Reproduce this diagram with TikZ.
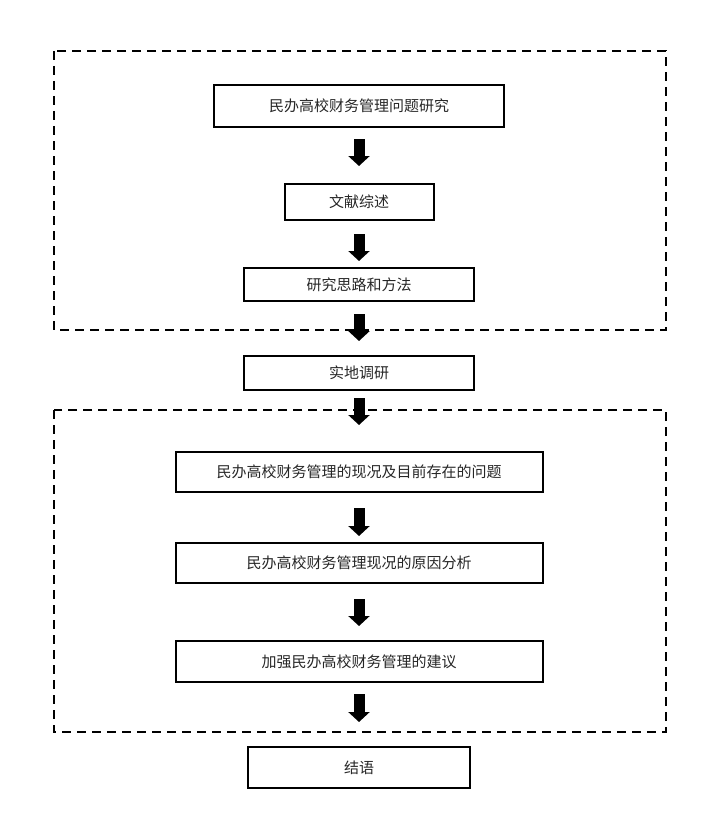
\documentclass[tikz,border=0pt]{standalone}
\usepackage{fontspec}
\newfontfamily\cjk{Noto Sans CJK SC}
\usetikzlibrary{arrows.meta}
\begin{document}
\begin{tikzpicture}[x=1pt,y=-1pt,
  box/.style={draw=black,line width=2pt,inner sep=0pt,font=\cjk\fontsize{15}{18}\selectfont,text=black!85},
  bigarrow/.style={line width=11pt,-{Triangle[width=21pt,length=10pt]}},
  dashbox/.style={draw=black,line width=2pt,dash pattern=on 9pt off 6pt}]
\useasboundingbox (0,0) rectangle (724,832);
\draw[dashbox] (54,51) rectangle (666,330);
\draw[dashbox] (54,410) rectangle (666,732);
\node[box,minimum width=290pt,minimum height=42pt] (b1) at (359,106) {民办高校财务管理问题研究};
\node[box,minimum width=149pt,minimum height=36pt] (b2) at (359,202) {文献综述};
\node[box,minimum width=230pt,minimum height=33pt] (b3) at (359,284.5) {研究思路和方法};
\node[box,minimum width=230pt,minimum height=34pt] (b4) at (359,373) {实地调研};
\node[box,minimum width=367pt,minimum height=40pt] (b5) at (359,472) {民办高校财务管理的现况及目前存在的问题};
\node[box,minimum width=367pt,minimum height=40pt] (b6) at (359,563) {民办高校财务管理现况的原因分析};
\node[box,minimum width=367pt,minimum height=41pt] (b7) at (359,661.5) {加强民办高校财务管理的建议};
\node[box,minimum width=222pt,minimum height=41pt] (b8) at (359,767.5) {结语};
\draw[bigarrow,shorten <=11pt,shorten >=17pt] (b1) -- (b2);
\draw[bigarrow,shorten <=13pt,shorten >=6pt] (b2) -- (b3);
\draw[bigarrow,shorten <=12pt,shorten >=14pt] (b3) -- (b4);
\draw[bigarrow,shorten <=7pt,shorten >=26pt] (b4) -- (b5);
\draw[bigarrow,shorten <=15pt,shorten >=6pt] (b5) -- (b6);
\draw[bigarrow,shorten <=15pt,shorten >=14pt] (b6) -- (b7);
\draw[bigarrow,shorten <=11pt,shorten >=24pt] (b7) -- (b8);
\end{tikzpicture}
\end{document}
